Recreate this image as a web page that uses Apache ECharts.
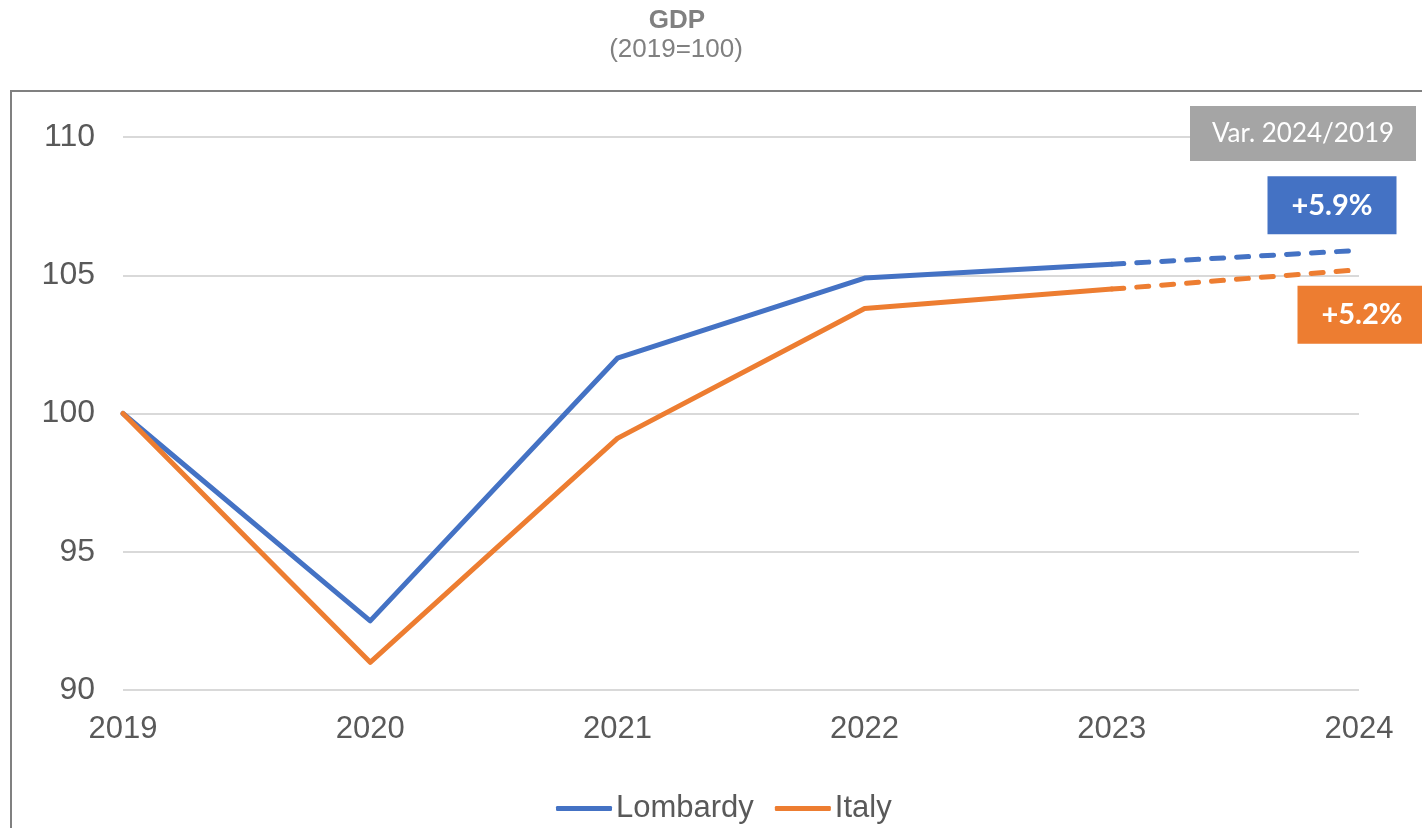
<!DOCTYPE html>
<html>
<head>
<meta charset="utf-8">
<script src="https://cdn.jsdelivr.net/npm/echarts@6/dist/echarts.min.js"></script>
<style>
  html, body { margin: 0; padding: 0; background: #fff; }
  #chart { width: 1422px; height: 828px; }
</style>
</head>
<body>
<div id="chart"></div>
<script>
// GDP index, 2019 = 100
const years = ['2019', '2020', '2021', '2022', '2023', '2024'];
const lombardy = [100, 92.5, 102.0, 104.9, 105.4, 105.9];
const italy = [100, 91.0, 99.1, 103.8, 104.5, 105.2];
const yTicks = { min: 90, max: 110, interval: 5 };

const BLUE = '#4472C4';
const ORANGE = '#ED7D31';
const LABEL = '#595959';

// Actual values up to 2023 drawn solid, last year drawn dashed
const solidPart = arr => arr.map((v, i) => (i <= 4 ? v : null));
const dashedPart = arr => arr.map((v, i) => (i >= 4 ? v : null));
const last = arr => arr[arr.length - 1];
const pctLabel = v => '+' + (v - 100).toFixed(1) + '%';

function varBadge(values, color, offset) {
  const v = last(values);
  return {
    silent: true,
    animation: false,
    symbol: 'rect',
    symbolSize: [129, 58],
    symbolOffset: offset,
    itemStyle: { color: color },
    label: {
      show: true,
      position: 'inside',
      color: '#fff',
      fontFamily: 'Lato',
      fontWeight: 'bold',
      fontSize: 29,
      formatter: () => pctLabel(v)
    },
    data: [{ coord: [years[years.length - 1], v], value: v }]
  };
}

function lineSeries(name, values, color, dashed) {
  return {
    name: name,
    type: 'line',
    data: dashed ? dashedPart(values) : solidPart(values),
    symbol: 'none',
    smooth: false,
    connectNulls: false,
    lineStyle: {
      color: color,
      width: 5,
      type: dashed ? [12, 13] : 'solid',
      cap: 'round',
      join: 'round'
    },
    itemStyle: { color: color },
    z: dashed ? 3 : 4
  };
}

const chart = echarts.init(document.getElementById('chart'), null, { renderer: 'canvas' });

const lombardyDashed = lineSeries('Lombardy', lombardy, BLUE, true);
lombardyDashed.markPoint = varBadge(lombardy, BLUE, [-27, -45]);
const italyDashed = lineSeries('Italy', italy, ORANGE, true);
italyDashed.markPoint = varBadge(italy, ORANGE, [3, 45]);

chart.setOption({
  animation: false,
  backgroundColor: '#fff',
  grid: { left: 123, right: 63, top: 137, bottom: 138, containLabel: false },
  legend: {
    data: ['Lombardy', 'Italy'],
    left: 551,
    top: 788,
    itemWidth: 56,
    itemHeight: 5,
    itemGap: 21,
    icon: 'roundRect',
    textStyle: { fontFamily: 'Liberation Sans', fontSize: 31, color: LABEL, padding: [0, 0, 0, -1] }
  },
  xAxis: {
    type: 'category',
    data: years,
    boundaryGap: false,
    axisLine: { show: false },
    axisTick: { show: false },
    axisLabel: { color: LABEL, fontFamily: 'Liberation Sans', fontSize: 31, margin: 24 },
    splitLine: { show: false }
  },
  yAxis: {
    type: 'value',
    min: yTicks.min,
    max: yTicks.max,
    interval: yTicks.interval,
    axisLine: { show: false },
    axisTick: { show: false },
    axisLabel: { color: LABEL, fontFamily: 'Liberation Sans', fontSize: 32, margin: 28 },
    splitLine: { show: true, lineStyle: { color: '#D9D9D9', width: 2 } }
  },
  graphic: [
    {
      type: 'text',
      x: 677,
      y: 21,
      style: {
        text: 'GDP',
        fill: '#808080',
        font: 'bold 26px "Liberation Sans"',
        textAlign: 'center',
        textVerticalAlign: 'middle'
      },
      silent: true
    },
    {
      type: 'text',
      x: 676,
      y: 50,
      style: {
        text: '(2019=100)',
        fill: '#808080',
        font: '26px "Liberation Sans"',
        textAlign: 'center',
        textVerticalAlign: 'middle'
      },
      silent: true
    },
    {
      type: 'rect',
      shape: { x: 11, y: 91, width: 1500, height: 800 },
      style: { fill: 'none', stroke: '#808080', lineWidth: 2 },
      silent: true,
      z: -1
    },
    {
      type: 'rect',
      shape: { x: 1190, y: 106, width: 226, height: 55 },
      style: { fill: '#A5A5A5' },
      silent: true,
      z: 10
    },
    {
      type: 'text',
      x: 1303,
      y: 134,
      style: {
        text: 'Var. 2024/2019',
        fill: '#fff',
        font: '26px Lato',
        textAlign: 'center',
        textVerticalAlign: 'middle'
      },
      silent: true,
      z: 11
    }
  ],
  series: [
    lineSeries('Lombardy', lombardy, BLUE, false),
    lineSeries('Italy', italy, ORANGE, false),
    lombardyDashed,
    italyDashed
  ]
});
</script>
</body>
</html>
